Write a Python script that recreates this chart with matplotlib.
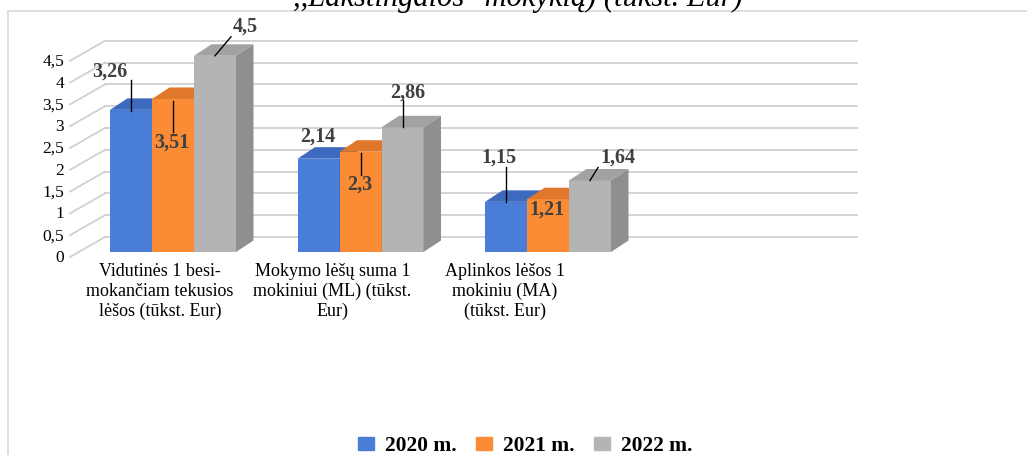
import matplotlib
matplotlib.use('Agg')
import matplotlib.pyplot as plt
from matplotlib.patches import Polygon, Patch

plt.rcParams['font.family'] = ['Liberation Serif', 'DejaVu Serif']

# data
categories = ['Vidutinės 1 besi-\nmokančiam tekusios\nlėšos (tūkst. Eur)',
              'Mokymo lėšų suma 1\nmokiniui (ML) (tūkst.\nEur)',
              'Aplinkos lėšos 1\nmokiniu (MA)\n(tūkst. Eur)']
series = ['2020 m.', '2021 m.', '2022 m.']
v2020 = [3.26, 2.14, 1.15]
v2021 = [3.51, 2.3, 1.21]
v2022 = [4.5, 2.86, 1.64]
values = [v2020, v2021, v2022]
yticks = [0, 0.5, 1, 1.5, 2, 2.5, 3, 3.5, 4, 4.5]
title = ',,Lakštingalos" mokyklą) (tūkst. Eur)'

# styles
front = ['#4a7dd8', '#fc8b35', '#b4b4b4']
top = ['#3d69bf', '#e0782c', '#a2a2a2']
side = ['#3a62b0', '#d06e28', '#8f8f8f']
grid_c = '#d0d0d0'
lab_c = '#404040'

W, H = 1027, 455
X0, SX = 173.0, 187.5   # pixel of group 0 centre, pixels per group
Y0, SY = 252.0, 43.6    # pixel of value 0 (front), pixels per unit

fig = plt.figure(figsize=(W / 100, H / 100), dpi=100)
ax = fig.add_axes([0, 0, 1, 1])
ax.set_xlim(-X0 / SX, (W - X0) / SX)
ax.set_ylim((Y0 - H) / SY, Y0 / SY)
ax.axis('off')


def dpx(dx, dy):
    """pixel offset -> data offset (dy positive downwards)"""
    return dx / SX, -dy / SY


# chart border
fig.add_artist(plt.Line2D([8 / W, 8 / W], [0, 1 - 11 / H], color='#d9d9d9', lw=1.2))
fig.add_artist(plt.Line2D([8 / W, 1], [1 - 11 / H, 1 - 11 / H], color='#d9d9d9', lw=1.2))

# walls
bx0, by0 = dpx(105 - X0, 237 - Y0)
bx1 = (857 - X0) / SX
lx0, ly0 = dpx(70 - X0, 257 - Y0)
for t in yticks:
    ax.plot([bx0, bx1], [t + by0, t + by0], color=grid_c, lw=1.3, zorder=1)
    ax.plot([lx0, bx0], [t + ly0, t + by0], color=grid_c, lw=1.3, zorder=1)
    ax.annotate(str(t).replace('.', ','), xy=(lx0, t + ly0), xytext=(-6, -1),
                textcoords='offset pixels', ha='right', va='center',
                fontsize=12.5, color='black')

# bars
bw = 42 / SX
ddx, ddy = dpx(17.5, -11.5)
for s, vals in enumerate(values):
    for i, v in enumerate(vals):
        x = i + (s - 1) * bw
        l, r = x - bw / 2, x + bw / 2
        ax.bar(x, v, bw, color=front[s], zorder=3 + s, linewidth=0)
        ax.add_patch(Polygon([(l, v), (r, v), (r + ddx, v + ddy), (l + ddx, v + ddy)],
                             closed=True, color=top[s], lw=0, zorder=3 + s))
        ax.add_patch(Polygon([(r, 0), (r + ddx, ddy), (r + ddx, v + ddy), (r, v)],
                             closed=True, color=side[s], lw=0, zorder=3 + s))

# data labels: text offset and leader line (pixels from bar top centre)
label_pos = [[(-21, -38), (-1, -22), (-7, -44)],
             [(-1, 44), (-1, 33), (-1, 10)],
             [(30, -29), (5, -35), (28, -23)]]
leaders = [[((0, -30), (0, 1)), None, ((0, -35), (0, 0))],
           [((0, 2), (0, 33)), ((0, 1), (0, 23)), None],
           [((16, -19), (0, 0)), ((0, -27), (0, 0)), ((8, -13), (0, 0))]]
for s, vals in enumerate(values):
    for i, v in enumerate(vals):
        x = i + (s - 1) * bw
        ox, oy = label_pos[s][i]
        ax.annotate(str(v).replace('.', ','), xy=(x, v), xytext=(ox, -oy),
                    textcoords='offset pixels', ha='center', va='center',
                    fontsize=14.5, fontweight='bold', color=lab_c, zorder=10)
        if leaders[s][i]:
            (a, b), (c, d) = leaders[s][i]
            p0 = dpx(a, b)
            p1 = dpx(c, d)
            ax.plot([x + p0[0], x + p1[0]], [v + p0[1], v + p1[1]],
                    color='black', lw=1.0, zorder=10)

# category labels
for i, c in enumerate(categories):
    lx = -0.07 + 0.92 * i
    ax.text(lx, (Y0 - 263) / SY, c, ha='center', va='top', fontsize=13,
            linespacing=1.2, color='black')

# title (cut off at the top, as in the source)
fig.text(518 / W, 1 - 6 / H, title, ha='center', va='baseline',
         fontsize=22, style='italic', color='black')

# legend
handles = [Patch(color=c) for c in front]
fig.legend(handles, series, loc='center', bbox_to_anchor=(525 / W, 9 / H), ncol=3,
           frameon=False, prop=dict(family='Liberation Serif', weight='bold', size=15.5),
           handlelength=0.75, handleheight=0.6, handletextpad=0.5, columnspacing=0.9)

fig.savefig('out.png', dpi=100)
